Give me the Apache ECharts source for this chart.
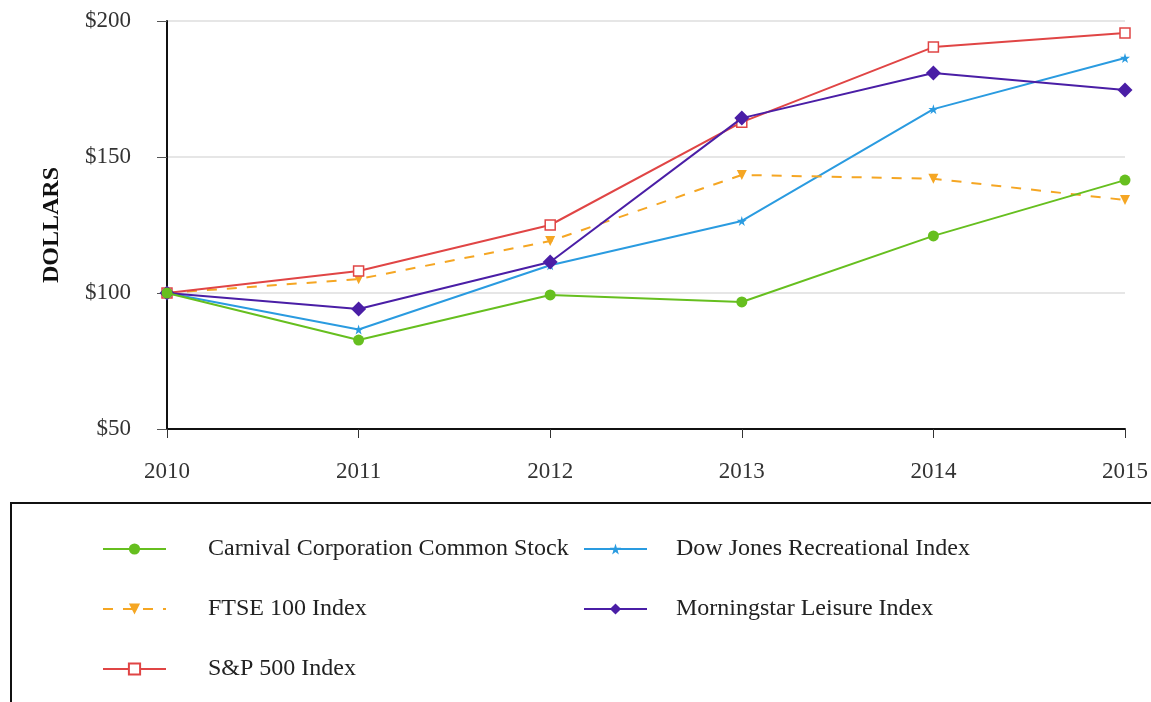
<!DOCTYPE html>
<html>
<head>
<meta charset="utf-8">
<script src="https://cdn.jsdelivr.net/npm/echarts@6/dist/echarts.min.js"></script>
<style>
  html, body { margin: 0; padding: 0; background: #fff; }
  #main { width: 1151px; height: 702px; }
</style>
</head>
<body>
<div id="main"></div>
<script>
var years = ['2010', '2011', '2012', '2013', '2014', '2015'];
var carnival = [100, 82.7, 99.3, 96.7, 121, 141.5];
var dowJones = [100, 86.6, 110.2, 126.5, 167.6, 186.4];
var ftse = [100, 105.1, 119.1, 143.4, 142, 134.2];
var morningstar = [100, 94.1, 111.4, 164.3, 180.9, 174.6];
var sp500 = [100, 108.1, 125, 162.8, 190.4, 195.6];

var serif = '"Liberation Serif", "DejaVu Serif", serif';
var chart = echarts.init(document.getElementById('main'));

// one legend per entry so each can sit where the reference puts it
function legendAt(name, left, centerY, textGap) {
  return {
    data: [name],
    left: left,
    top: centerY - 12,
    padding: 0,
    itemWidth: 63,
    itemHeight: 14,
    selectedMode: false,
    textStyle: { fontFamily: serif, fontSize: 24, lineHeight: 24, color: '#222', padding: [0, 0, 0, textGap] }
  };
}

var option = {
  backgroundColor: '#fff',
  animation: false,
  graphic: [{
    type: 'rect',
    shape: { x: 11, y: 503, width: 1150, height: 210 },
    style: { fill: 'none', stroke: '#111', lineWidth: 2 }
  }],
  legend: [
    legendAt('Carnival Corporation Common Stock', 102, 549, 37),
    legendAt('Dow Jones Recreational Index', 583, 549, 24),
    legendAt('FTSE 100 Index', 102, 609, 37),
    legendAt('Morningstar Leisure Index', 583, 609, 24),
    legendAt('S&P 500 Index', 102, 669, 37)
  ],
  grid: { left: 167, right: 26, top: 21, bottom: 273 },
  xAxis: {
    type: 'category',
    data: years,
    boundaryGap: false,
    axisLine: { lineStyle: { color: '#111', width: 2 } },
    axisTick: { show: true, length: 9, inside: false, lineStyle: { color: '#333', width: 1 } },
    axisLabel: { fontFamily: serif, fontSize: 23, color: '#333', margin: 31 },
    splitLine: { show: false }
  },
  yAxis: {
    type: 'value',
    min: 50,
    max: 200,
    interval: 50,
    name: 'DOLLARS',
    nameLocation: 'middle',
    nameGap: 103,
    nameTextStyle: { fontFamily: serif, fontSize: 24, fontWeight: 'bold', color: '#111' },
    axisLine: { show: true, lineStyle: { color: '#111', width: 2 } },
    axisTick: { show: true, length: 10, lineStyle: { color: '#555', width: 1 } },
    axisLabel: {
      fontFamily: serif, fontSize: 23, color: '#333', margin: 36,
      formatter: function (v) { return '$' + v; }
    },
    splitLine: { show: true, lineStyle: { color: '#e6e6e6', width: 2 } }
  },
  series: [
    {
      name: 'Carnival Corporation Common Stock',
      type: 'line',
      data: carnival,
      symbol: 'circle',
      symbolSize: 11,
      color: '#66bf1f',
      lineStyle: { width: 2, color: '#66bf1f' },
      z: 5
    },
    {
      name: 'Dow Jones Recreational Index',
      type: 'line',
      data: dowJones,
      symbol: 'path://M50,0 L61,35 L98,35 L68,57 L79,91 L50,70 L21,91 L32,57 L2,35 L39,35 Z',
      symbolSize: 10,
      color: '#2a9be0',
      lineStyle: { width: 2, color: '#2a9be0' }
    },
    {
      name: 'FTSE 100 Index',
      type: 'line',
      data: ftse,
      symbol: 'triangle',
      symbolRotate: 180,
      symbolSize: 10,
      color: '#f5a623',
      lineStyle: { width: 2, color: '#f5a623', type: [10, 10] }
    },
    {
      name: 'Morningstar Leisure Index',
      type: 'line',
      data: morningstar,
      symbol: 'diamond',
      symbolSize: 15,
      color: '#4a1ea6',
      lineStyle: { width: 2, color: '#4a1ea6' },
      z: 4
    },
    {
      name: 'S&P 500 Index',
      type: 'line',
      data: sp500,
      symbol: 'rect',
      symbolSize: 10,
      color: '#e04545',
      itemStyle: { color: '#fff', borderColor: '#e04545', borderWidth: 1.5 },
      lineStyle: { width: 2, color: '#e04545' },
      z: 3
    }
  ]
};

chart.setOption(option);
</script>
</body>
</html>
